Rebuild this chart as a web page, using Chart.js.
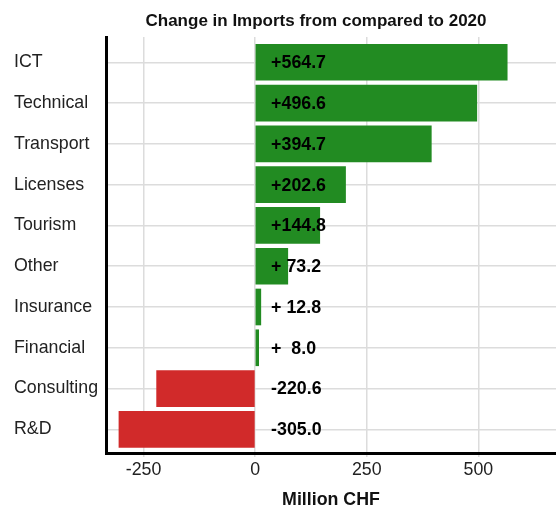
<!DOCTYPE html>
<html>
<head>
<meta charset="utf-8">
<script src="https://cdn.jsdelivr.net/npm/chart.js@4/dist/chart.umd.min.js"></script>
<style>
  html, body { margin: 0; padding: 0; background: #fff; }
  #wrap { width: 556px; height: 508px; }
</style>
</head>
<body>
<div id="wrap"><canvas id="chart" width="556" height="508"></canvas></div>
<script>
// --- data ---
const categories = ['ICT', 'Technical', 'Transport', 'Licenses', 'Tourism', 'Other', 'Insurance', 'Financial', 'Consulting', 'R&D'];
const changes = [564.7, 496.6, 394.7, 202.6, 144.8, 73.2, 12.8, 8.0, -220.6, -305.0];
const xTicks = [-250, 0, 250, 500];

const TITLE = 'Change in Imports from compared to 2020';
const X_TITLE = 'Million CHF';

const GREEN = '#228b22';
const RED = '#d12a2a';
const FONT = "'Liberation Sans', Arial, sans-serif";

// "+ 73.2" style label, sign then number padded to width 5
function fmt(v) {
    const sign = v < 0 ? '-' : '+';
    return sign + Math.abs(v).toFixed(1).padStart(5, ' ');
}

// title drawn by hand so it sits where the reference has it
const titlePlugin = {
    id: 'titleText',
    afterDraw(chart) {
        const ctx = chart.ctx;
        ctx.save();
        ctx.font = 'bold 17px ' + FONT;
        ctx.fillStyle = '#111';
        ctx.textAlign = 'center';
        ctx.textBaseline = 'alphabetic';
        ctx.fillText(TITLE, 316, 25.5);
        ctx.restore();
    }
};

// value labels next to the zero line
const valueLabels = {
    id: 'valueLabels',
    afterDatasetsDraw(chart) {
        const ctx = chart.ctx;
        const x0 = chart.scales.x.getPixelForValue(0) + 16;
        const meta = chart.getDatasetMeta(0);
        ctx.save();
        ctx.font = 'bold 17.8px ' + FONT;
        ctx.fillStyle = '#000';
        ctx.textAlign = 'left';
        ctx.textBaseline = 'middle';
        meta.data.forEach((bar, i) => {
            ctx.fillText(fmt(changes[i]), x0, bar.y + 1);
        });
        ctx.restore();
    }
};

const ctx = document.getElementById('chart').getContext('2d');
new Chart(ctx, {
    type: 'bar',
    data: {
        datasets: [{
            data: changes.map((v, i) => ({ x: v, y: i })),
            backgroundColor: changes.map(v => v >= 0 ? GREEN : RED),
            borderWidth: 0,
            barThickness: 36,
        }]
    },
    plugins: [titlePlugin, valueLabels],
    options: {
        indexAxis: 'y',
        responsive: false,
        animation: false,
        events: [],
        layout: { padding: { left: 14, top: 37, right: 0, bottom: 0 } },
        plugins: {
            legend: { display: false },
            title: { display: false },
            tooltip: { enabled: false },
        },
        scales: {
            x: {
                type: 'linear',
                min: -334,
                max: 674,
                afterFit: s => { s.height = 55; },
                afterBuildTicks: s => { s.ticks = xTicks.map(v => ({ value: v })); },
                ticks: {
                    font: { family: FONT, size: 17.8 },
                    color: '#222',
                    padding: 2,
                },
                grid: { color: '#dcdcdc', lineWidth: 1.5, tickLength: 4 },
                border: { color: '#000', width: 3 },
                title: {
                    display: true,
                    text: X_TITLE,
                    font: { family: FONT, size: 17.8, weight: 'bold', lineHeight: 0.85 },
                    color: '#111',
                    padding: { top: 0, bottom: 0 },
                },
            },
            y: {
                type: 'linear',
                reverse: true,
                offset: false,
                min: -0.62,
                max: 9.58,
                afterFit: s => { s.width = 92; },
                afterBuildTicks: s => { s.ticks = categories.map((_, i) => ({ value: i })); },
                ticks: {
                    callback: v => categories[v],
                    font: { family: FONT, size: 17.8 },
                    color: '#222',
                    crossAlign: 'far',
                },
                grid: { color: '#dcdcdc', lineWidth: 1.5, drawTicks: false, offset: false },
                border: { color: '#000', width: 3 },
            }
        }
    }
});
</script>
</body>
</html>
